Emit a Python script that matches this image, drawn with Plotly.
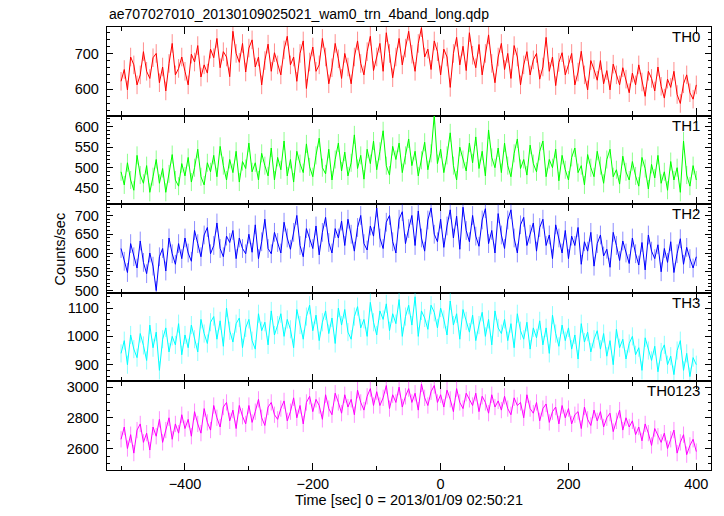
import plotly.graph_objects as go
from plotly.subplots import make_subplots

TITLE = "ae707027010_20130109025021_wam0_trn_4band_long.qdp"
X_TITLE = "Time [sec] 0 = 2013/01/09 02:50:21"
Y_TITLE = "Counts/sec"
BANDS = ["TH0", "TH1", "TH2", "TH3", "TH0123"]

TIME_SEC = [
    -500, -495, -490, -485, -480, -475, -470, -465, -460, -455,
    -450, -445, -440, -435, -430, -425, -420, -415, -410, -405,
    -400, -395, -390, -385, -380, -375, -370, -365, -360, -355,
    -350, -345, -340, -335, -330, -325, -320, -315, -310, -305,
    -300, -295, -290, -285, -280, -275, -270, -265, -260, -255,
    -250, -245, -240, -235, -230, -225, -220, -215, -210, -205,
    -200, -195, -190, -185, -180, -175, -170, -165, -160, -155,
    -150, -145, -140, -135, -130, -125, -120, -115, -110, -105,
    -100, -95, -90, -85, -80, -75, -70, -65, -60, -55,
    -50, -45, -40, -35, -30, -25, -20, -15, -10, -5,
    0, 5, 10, 15, 20, 25, 30, 35, 40, 45,
    50, 55, 60, 65, 70, 75, 80, 85, 90, 95,
    100, 105, 110, 115, 120, 125, 130, 135, 140, 145,
    150, 155, 160, 165, 170, 175, 180, 185, 190, 195,
    200, 205, 210, 215, 220, 225, 230, 235, 240, 245,
    250, 255, 260, 265, 270, 275, 280, 285, 290, 295,
    300, 305, 310, 315, 320, 325, 330, 335, 340, 345,
    350, 355, 360, 365, 370, 375, 380, 385, 390, 395,
    400,
]

TH0 = [
    622, 655, 598, 690, 668, 612, 640, 705, 650, 630,
    688, 700, 618, 662, 595, 672, 728, 640, 658, 690,
    650, 612, 698, 676, 722, 634, 668, 645, 712, 688,
    742, 660, 705, 690, 635, 762, 700, 675, 728, 648,
    715, 738, 662, 690, 612, 680, 726, 650, 702, 668,
    640, 710, 748, 668, 690, 622, 700, 735, 602, 676,
    718, 650, 668, 742, 690, 615, 660, 728, 685, 630,
    700, 662, 615, 690, 735, 672, 640, 705, 748, 652,
    690, 728, 650, 758, 700, 632, 690, 742, 668, 715,
    762, 698, 650, 728, 772, 690, 712, 655, 735, 705,
    640, 712, 690, 605, 700, 745, 668, 720, 652, 758,
    695, 660, 725, 640, 700, 752, 672, 618, 690, 728,
    655, 700, 630, 722, 690, 612, 668, 705, 640, 682,
    700, 628, 662, 745, 650, 690, 610, 675, 702, 640,
    668, 700, 612, 648, 706, 640, 598, 680, 655, 625,
    680, 615, 652, 598, 670, 640, 612, 660, 628, 590,
    645, 612, 668, 620, 580, 650, 630, 595, 662, 608,
    575, 628, 605, 650, 585, 560, 615, 640, 590, 572,
    612,
]

TH1 = [
    490, 458, 512, 470, 445, 530, 482, 462, 505, 440,
    478, 520, 462, 498, 440, 485, 532, 470, 455, 510,
    480, 525, 465, 500, 545, 478, 458, 512, 490, 530,
    478, 552, 505, 470, 520, 488, 540, 465, 515, 498,
    560, 490, 512, 470, 535, 505, 480, 548, 470, 525,
    495, 565, 480, 520, 465, 540, 510, 488, 558, 502,
    478, 530, 572, 500, 485, 545, 470, 520, 560, 492,
    538, 480, 512, 580, 498, 530, 472, 545, 510, 565,
    495, 540, 590, 505, 482, 552, 520, 560, 488, 530,
    570, 505, 540, 480, 518, 562, 495, 535, 628, 510,
    545, 488, 530, 585, 505, 470, 550, 520, 492, 560,
    512, 575, 498, 540, 480, 592, 525, 500, 548, 488,
    560, 505, 478, 535, 570, 498, 520, 482, 555, 510,
    490, 540, 565, 478, 520, 500, 545, 468, 530, 495,
    470, 525, 548, 488, 505, 458, 532, 500, 478, 540,
    505, 462, 520, 545, 478, 495, 460, 528, 490, 470,
    515, 480, 455, 525, 498, 448, 508, 475, 530, 462,
    490, 445, 515, 470, 500, 440, 565, 482, 455, 505,
    470,
]

TH2 = [
    612, 578, 548, 625, 590, 560, 632, 575, 545, 600,
    565, 500, 590, 612, 552, 640, 598, 570, 625, 585,
    640, 600, 578, 660, 625, 590, 648, 668, 598, 620,
    680, 612, 590, 645, 628, 660, 585, 640, 612, 598,
    650, 602, 675, 585, 630, 690, 612, 598, 655, 628,
    600, 682, 640, 610, 655, 700, 620, 590, 665, 640,
    612, 672, 595, 655, 695, 628, 600, 665, 640, 685,
    620, 690, 650, 605, 668, 700, 625, 608, 672, 645,
    720, 640, 612, 682, 700, 630, 600, 690, 710, 625,
    665, 700, 620, 712, 640, 605, 688, 720, 650, 630,
    690, 615, 672, 715, 640, 698, 610, 722, 660, 630,
    700, 645, 618, 688, 718, 625, 660, 600, 705, 648,
    612, 688, 715, 640, 600, 675, 695, 620, 650, 680,
    605, 668, 690, 620, 648, 585, 675, 640, 600, 660,
    585, 645, 620, 668, 570, 630, 605, 655, 565, 625,
    648, 592, 610, 562, 655, 620, 580, 632, 600, 572,
    640, 598, 568, 628, 555, 648, 605, 585, 622, 550,
    612, 575, 630, 548, 598, 638, 570, 615, 585, 560,
    590,
]

TH3 = [
    940, 985, 900, 1005, 955, 925, 1010, 968, 915, 1040,
    960, 1015, 880, 990, 1030, 945, 1000, 970, 1045, 935,
    1005, 960, 1040, 990, 945, 1060, 1010, 975, 1050, 1070,
    990, 1055, 965, 1100, 1020, 980, 1045, 1065, 960, 1030,
    1060, 985, 955, 1080, 1020, 1050, 970, 1090, 1005, 1040,
    1080, 1000, 1060, 1025, 960, 1095, 1040, 990, 1070, 1110,
    1020, 1075, 985, 1050, 1090, 1010, 1065, 975, 1100, 1040,
    1095, 1015, 990, 1070, 1105, 1030, 1060, 1000, 1120, 1050,
    1005, 1090, 1060, 1115, 1020, 1080, 1045, 1130, 1000, 1070,
    1110, 1040, 1140, 1000, 1090, 1065, 1025, 1110, 1085, 1030,
    1100, 1060, 1005, 1125, 1040, 1080, 990, 1095, 1055, 1015,
    1075, 985, 1040, 1085, 1000, 1060, 970, 1090, 1030, 1010,
    1060, 985, 1045, 960, 1080, 1020, 990, 1050, 955, 1030,
    995, 1055, 970, 1030, 940, 1075, 1010, 965, 1040, 985,
    1030, 955, 1005, 920, 1045, 980, 1015, 945, 990, 1020,
    955, 1010, 930, 985, 900, 1025, 960, 990, 920, 975,
    1000, 935, 960, 880, 995, 950, 915, 965, 875, 945,
    970, 900, 930, 865, 950, 985, 880, 940, 858, 925,
    900,
]

TH0123 = [
    2660, 2740, 2600, 2690, 2570, 2720, 2760, 2640, 2700, 2590,
    2740, 2680, 2790, 2640, 2720, 2800, 2660, 2760, 2700, 2820,
    2730, 2790, 2680, 2840, 2760, 2700, 2860, 2770, 2720, 2880,
    2800, 2740, 2870, 2900, 2780, 2850, 2730, 2880, 2810, 2760,
    2880, 2770, 2840, 2920, 2800, 2750, 2870, 2900, 2820, 2790,
    2860, 2910, 2780, 2840, 2930, 2800, 2880, 2760, 2900, 2940,
    2840, 2920, 2880, 2790, 2950, 2860, 2820, 2960, 2900, 2830,
    2950, 2870, 2920, 2820, 2980, 2900, 2850, 2940, 2990, 2880,
    2970, 2880, 2930, 3010, 2860, 2950, 2900, 3000, 2870, 2940,
    2990, 2900, 2960, 2850, 3020, 2930, 2880, 2970, 3010, 2900,
    2950, 2870, 2980, 2920, 2840, 2990, 2900, 2860, 2960, 2920,
    2880, 2960, 2840, 2940, 2900, 2830, 2950, 2870, 2910, 2850,
    2940, 2860, 2820, 2930, 2880, 2900, 2800, 2950, 2860, 2830,
    2900, 2780, 2860, 2890, 2770, 2840, 2870, 2760, 2880, 2800,
    2860, 2760, 2820, 2840, 2730, 2870, 2790, 2750, 2850, 2780,
    2840, 2740, 2800, 2830, 2710, 2780, 2850, 2720, 2800, 2740,
    2780, 2690, 2740, 2650, 2760, 2700, 2620, 2730, 2680, 2640,
    2700, 2600, 2660, 2720, 2570, 2640, 2690, 2560, 2620, 2660,
    2580,
]

ERRORS = [26, 22, 25, 32, 53]
SERIES = [TH0, TH1, TH2, TH3, TH0123]

COLORS = ["#ff0000", "#00ff00", "#0000ff", "#00ffff", "#ff00ff"]
ERR_COLORS = ["rgba(255,0,0,0.45)", "rgba(0,255,0,0.45)", "rgba(0,0,255,0.45)",
              "rgba(0,255,255,0.45)", "rgba(255,0,255,0.45)"]
Y_RANGES = [[526, 774], [411, 627], [494, 730], [841, 1154], [2460, 3037]]
Y_DTICK = [100, 50, 50, 100, 200]
Y_MINOR = [20, 10, 10, 20, 50]

FONT = "Liberation Sans, Arial, sans-serif"

fig = make_subplots(rows=5, cols=1, shared_xaxes=True, vertical_spacing=0)

for i, (vals, err) in enumerate(zip(SERIES, ERRORS)):
    fig.add_trace(go.Scatter(
        x=TIME_SEC, y=vals, mode="lines",
        line=dict(color=COLORS[i], width=1),
        error_y=dict(type="constant", value=err, color=ERR_COLORS[i],
                     thickness=1, width=0),
        showlegend=False, hoverinfo="skip",
    ), row=i + 1, col=1)

axis_common = dict(
    showline=True, linecolor="black", linewidth=1.3, mirror="allticks",
    ticks="inside", tickcolor="black", tickwidth=1, showgrid=False,
    zeroline=False, tickfont=dict(family=FONT, size=14.5, color="black"),
)

for i in range(5):
    fig.update_yaxes(range=Y_RANGES[i], dtick=Y_DTICK[i], tick0=0, ticklen=6,
                     ticklabelstandoff=4,
                     minor=dict(dtick=Y_MINOR[i], ticks="inside", ticklen=3,
                                tickcolor="black", showgrid=False),
                     **axis_common, row=i + 1, col=1)
    fig.update_xaxes(range=[-522, 423], dtick=200, tick0=0, ticklen=7,
                     minor=dict(dtick=100, ticks="inside", ticklen=4,
                                tickcolor="black", showgrid=False),
                     **axis_common, row=i + 1, col=1)

fig.update_xaxes(title=dict(text=X_TITLE, font=dict(family=FONT, size=14.5, color="black"),
                            standoff=2), row=5, col=1)

annotations = [
    dict(text=TITLE, x=0, y=1, xref="paper", yref="paper", xanchor="left",
         yanchor="bottom", yshift=3, showarrow=False,
         font=dict(family=FONT, size=14, color="black")),
    dict(text=Y_TITLE, x=-0.078, y=0.5, xref="paper", yref="paper",
         textangle=-90, showarrow=False, xanchor="center", yanchor="middle",
         font=dict(family=FONT, size=14.5, color="black")),
]
for i, name in enumerate(BANDS):
    yref = "y domain" if i == 0 else f"y{i + 1} domain"
    annotations.append(dict(text=name, x=0.985, y=1, xref="paper", yref=yref,
                            xanchor="right", yanchor="top", yshift=1,
                            showarrow=False,
                            font=dict(family=FONT, size=15, color="black")))

fig.update_layout(
    width=724, height=516,
    margin=dict(l=107, r=12, t=27, b=40),
    paper_bgcolor="white", plot_bgcolor="white",
    annotations=annotations,
    font=dict(family=FONT, color="black"),
)

# remove the browser's default page margin so the figure sits at (0, 0)
fig.write_html("out.html",
               config={"displayModeBar": False},
               post_script="document.body.style.margin='0';")
